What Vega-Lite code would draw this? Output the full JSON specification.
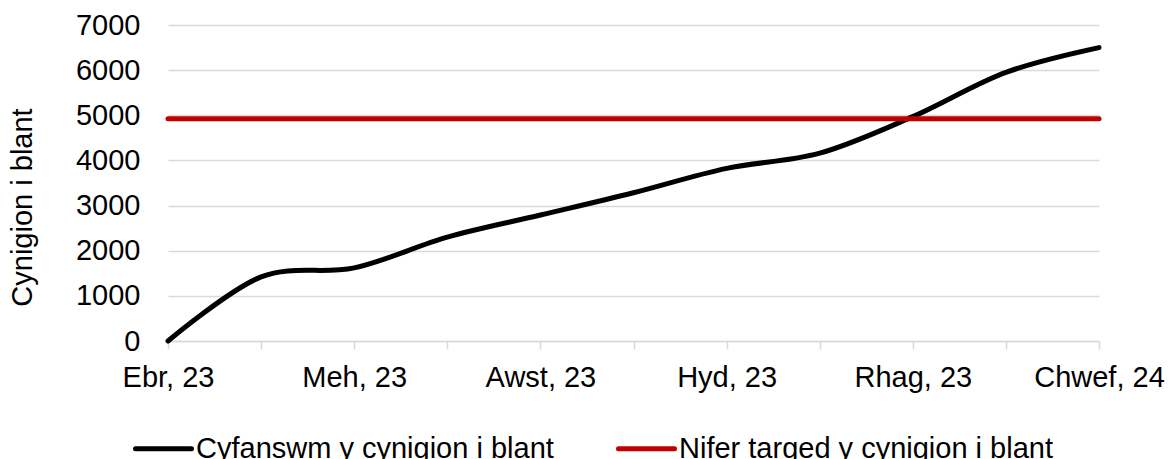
{
  "$schema": "https://vega.github.io/schema/vega-lite/v6.json",
  "width": 931,
  "height": 316,
  "autosize": {"type": "none"},
  "padding": {"left": 168, "top": 25, "right": 69, "bottom": 118},
  "background": "white",
  "config": {
    "view": {"stroke": null},
    "font": "Liberation Sans"
  },
  "data": {
    "values": [
      {"month": "Ebr, 23", "series": "Cyfanswm y cynigion i blant", "value": 0},
      {"month": "Mai, 23", "series": "Cyfanswm y cynigion i blant", "value": 1420},
      {"month": "Meh, 23", "series": "Cyfanswm y cynigion i blant", "value": 1620},
      {"month": "Gorff, 23", "series": "Cyfanswm y cynigion i blant", "value": 2300},
      {"month": "Awst, 23", "series": "Cyfanswm y cynigion i blant", "value": 2790},
      {"month": "Medi, 23", "series": "Cyfanswm y cynigion i blant", "value": 3285},
      {"month": "Hyd, 23", "series": "Cyfanswm y cynigion i blant", "value": 3825},
      {"month": "Tach, 23", "series": "Cyfanswm y cynigion i blant", "value": 4160},
      {"month": "Rhag, 23", "series": "Cyfanswm y cynigion i blant", "value": 4970},
      {"month": "Ion, 24", "series": "Cyfanswm y cynigion i blant", "value": 5950},
      {"month": "Chwef, 24", "series": "Cyfanswm y cynigion i blant", "value": 6500},
      {"month": "Ebr, 23", "series": "Nifer targed y cynigion i blant", "value": 4925},
      {"month": "Mai, 23", "series": "Nifer targed y cynigion i blant", "value": 4925},
      {"month": "Meh, 23", "series": "Nifer targed y cynigion i blant", "value": 4925},
      {"month": "Gorff, 23", "series": "Nifer targed y cynigion i blant", "value": 4925},
      {"month": "Awst, 23", "series": "Nifer targed y cynigion i blant", "value": 4925},
      {"month": "Medi, 23", "series": "Nifer targed y cynigion i blant", "value": 4925},
      {"month": "Hyd, 23", "series": "Nifer targed y cynigion i blant", "value": 4925},
      {"month": "Tach, 23", "series": "Nifer targed y cynigion i blant", "value": 4925},
      {"month": "Rhag, 23", "series": "Nifer targed y cynigion i blant", "value": 4925},
      {"month": "Ion, 24", "series": "Nifer targed y cynigion i blant", "value": 4925},
      {"month": "Chwef, 24", "series": "Nifer targed y cynigion i blant", "value": 4925}
    ]
  },
  "mark": {"type": "line", "interpolate": "cardinal", "strokeWidth": 5, "strokeCap": "round", "strokeJoin": "round"},
  "encoding": {
    "x": {
      "field": "month",
      "type": "ordinal",
      "sort": null,
      "scale": {"type": "point", "padding": 0},
      "axis": {
        "title": null,
        "labelAngle": 0,
        "labelFontSize": 29,
        "labelColor": "#000000",
        "labelPadding": 14,
        "labelBaseline": "top",
        "labelOverlap": false,
        "labelExpr": "indexof(['Ebr, 23','Meh, 23','Awst, 23','Hyd, 23','Rhag, 23','Chwef, 24'], datum.value) >= 0 ? datum.label : ''",
        "tickSize": 8,
        "tickColor": "#d9d9d9",
        "tickWidth": 1.5,
        "domainColor": "#d9d9d9",
        "domainWidth": 1.5,
        "grid": false
      }
    },
    "y": {
      "field": "value",
      "type": "quantitative",
      "scale": {"domain": [0, 7000], "nice": false},
      "axis": {
        "values": [0, 1000, 2000, 3000, 4000, 5000, 6000, 7000],
        "format": "d",
        "title": "Cynigion i blant",
        "titleFontSize": 29,
        "titleFontWeight": "normal",
        "titleColor": "#000000",
        "titleAngle": 270,
        "titleX": -137,
        "titleY": 182,
        "titleAlign": "center",
        "titleBaseline": "alphabetic",
        "labelFontSize": 29,
        "labelColor": "#000000",
        "labelPadding": 28,
        "ticks": false,
        "tickSize": 0,
        "domain": false,
        "grid": true,
        "gridColor": "#d9d9d9",
        "gridWidth": 1.5
      }
    },
    "color": {
      "field": "series",
      "type": "nominal",
      "sort": ["Cyfanswm y cynigion i blant", "Nifer targed y cynigion i blant"],
      "scale": {"domain": ["Cyfanswm y cynigion i blant", "Nifer targed y cynigion i blant"], "range": ["#000000", "#c00000"]},
      "legend": {
        "title": null,
        "orient": "none",
        "direction": "horizontal",
        "legendX": -35,
        "legendY": 393,
        "symbolType": "stroke",
        "symbolSize": 3136,
        "symbolStrokeWidth": 5,
        "labelFontSize": 29,
        "labelColor": "#000000",
        "labelOffset": 2,
        "labelLimit": 600,
        "columnPadding": 54,
        "encode": {"symbols": {"update": {"strokeWidth": {"value": 5}, "strokeCap": {"value": "round"}}}}
      }
    }
  }
}
